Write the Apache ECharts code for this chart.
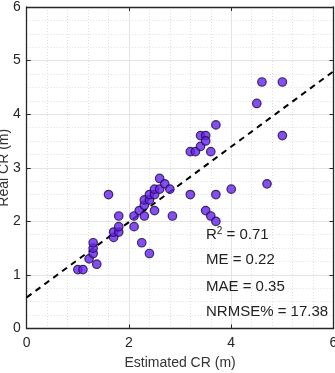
<!DOCTYPE html>
<html>
<head>
<meta charset="utf-8">
<script src="https://cdn.jsdelivr.net/npm/echarts@6/dist/echarts.min.js"></script>
<style>html,body{margin:0;padding:0;background:#fff;}#c{width:335px;height:373px;}</style>
</head>
<body>
<div id="c"></div>
<script>
var estimated = [1.00,1.10,1.22,1.30,1.30,1.30,1.37,1.60,1.70,1.70,1.80,1.80,1.80,2.10,2.10,2.20,2.25,2.30,2.30,2.30,2.40,2.40,2.40,2.50,2.50,2.50,2.60,2.60,2.70,2.80,2.85,3.20,3.20,3.30,3.40,3.40,3.50,3.50,3.60,3.70,3.50,3.60,3.70,3.70,4.00,4.50,4.60,5.00,5.00,4.70];
var real =      [1.10,1.10,1.30,1.40,1.50,1.60,1.20,2.50,1.70,1.80,1.80,1.90,2.10,1.90,2.10,2.20,1.60,2.10,2.30,2.40,2.40,2.50,1.40,2.20,2.50,2.60,2.60,2.80,2.70,2.60,2.10,2.50,3.30,3.30,3.40,3.60,3.60,3.50,3.30,3.80,2.20,2.10,2.00,2.50,2.60,4.20,4.60,4.60,3.60,2.70];
var fitX = [0, 6];
var fitY = [0.58, 4.80];
var statLines = ['R2 = 0.71', 'ME = 0.22', 'MAE = 0.35', 'NRMSE% = 17.38'];
var xTicks = [0, 2, 4, 6];
var yTicks = [0, 1, 2, 3, 4, 5, 6];

var pts = estimated.map(function(v, i){ return [v, real[i]]; });
var fit = fitX.map(function(v, i){ return [v, fitY[i]]; });

var axisColor = '#262626';
var font = 'Liberation Sans, Arial, sans-serif';
var chart = echarts.init(document.getElementById('c'), null, {renderer: 'canvas'});

function mainAxis(pos, isX) {
  return {
    type: 'value', position: pos, min: 0, max: 6, interval: isX ? 2 : 1,
    axisLine: {show: true, onZero: false, lineStyle: {color: axisColor, width: 1.3}},
    axisTick: {show: true, inside: true, length: 4, lineStyle: {color: axisColor}},
    axisLabel: {show: true, color: axisColor, fontSize: 14, fontFamily: font, margin: isX ? 8 : 6},
    splitLine: {show: true, lineStyle: {color: '#e3e3e3', width: 1}},
    minorTick: {show: false, splitNumber: isX ? 5 : 4},
    minorSplitLine: {show: true, lineStyle: {color: '#dedede', type: [1, 2], width: 1}},
    name: isX ? 'Estimated CR (m)' : 'Real CR (m)',
    nameLocation: 'middle',
    nameGap: isX ? 28 : 15.5,
    nameMoveOverlap: false,
    nameTextStyle: {color: '#333', fontSize: 14, fontFamily: font}
  };
}
function boxAxis(pos, isX) {
  return {
    type: 'value', position: pos, min: 0, max: 6, interval: isX ? 2 : 1,
    axisLine: {show: true, onZero: false, lineStyle: {color: axisColor, width: 1.3}},
    axisTick: {show: true, inside: true, length: 4, lineStyle: {color: axisColor}},
    axisLabel: {show: false},
    splitLine: {show: false}
  };
}

var graphics = statLines.map(function(t, i){
  var ys = [235, 261, 288, 313.5];
  var txt = i === 0 ? '{r|R}{s|2}{r| = 0.71}' : '{r|' + t + '}';
  return {
    type: 'text', left: 206, top: ys[i] - 9, z: 100,
    style: {
      text: txt,
      rich: {
        r: {fontSize: 15, fontFamily: font, fill: '#222', lineHeight: 18},
        s: {fontSize: 10, fontFamily: font, fill: '#222', verticalAlign: 'top', lineHeight: 18, padding: [0,0,8,0]}
      }
    }
  };
});

chart.setOption({
  animation: false,
  backgroundColor: '#fff',
  grid: {left: 26.7, right: 1.5, top: 7, bottom: 44.5, containLabel: false, outerBoundsMode: 'none'},
  xAxis: [mainAxis('bottom', true), boxAxis('top', true)],
  yAxis: [mainAxis('left', false), boxAxis('right', false)],
  graphic: graphics,
  series: [
    {
      type: 'line', data: fit, symbol: 'none', z: 3,
      lineStyle: {color: '#000', width: 2, type: [6, 5]}
    },
    {
      type: 'scatter', data: pts, symbol: 'circle', symbolSize: 8.5, z: 4,
      itemStyle: {color: '#6622ea', borderColor: '#1a0a45', borderWidth: 1.2}
    }
  ]
});
</script>
</body>
</html>
